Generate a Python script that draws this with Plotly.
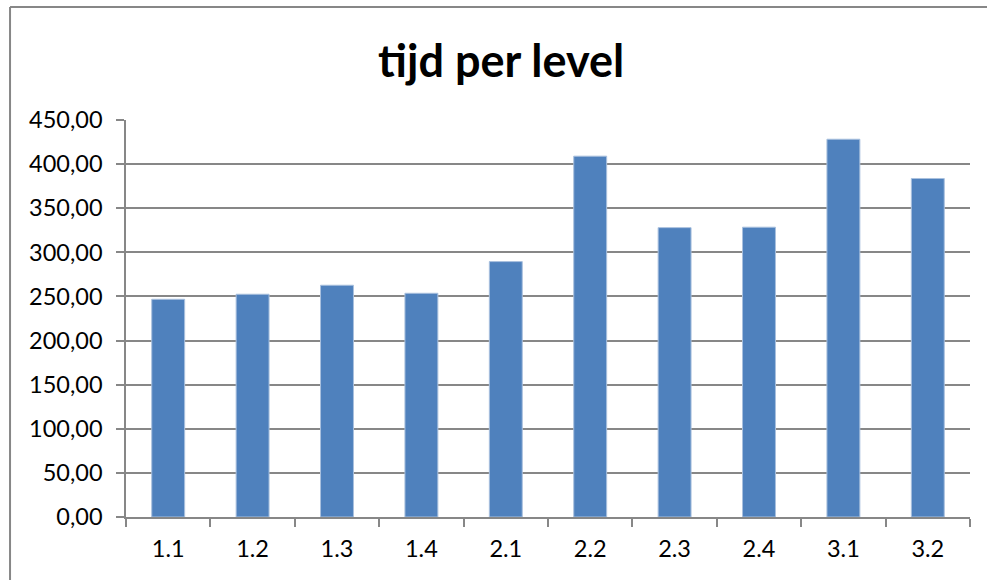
import plotly.graph_objects as go

# Average time per level
levels = ["1.1", "1.2", "1.3", "1.4", "2.1", "2.2", "2.3", "2.4", "3.1", "3.2"]
tijd = [246.8, 252.5, 262.7, 253.6, 289.5, 409.0, 328.0, 328.5, 428.2, 383.7]

y_ticks = [0, 50, 100, 150, 200, 250, 300, 350, 400, 450]
y_labels = [f"{v:.2f}".replace(".", ",") for v in y_ticks]

GRID = "#878787"
FONT = "Lato, 'Open Sans', sans-serif"

fig = go.Figure(
    go.Bar(
        x=levels,
        y=tijd,
        marker=dict(color="#4F81BD", line=dict(color="#A9C0DE", width=1)),
        hoverinfo="x+y",
    )
)

fig.update_layout(
    width=987,
    height=580,
    margin=dict(l=126, r=17, t=120, b=63),
    paper_bgcolor="white",
    plot_bgcolor="white",
    bargap=0.61,
    showlegend=False,
    font=dict(family=FONT, size=23.5, color="black"),
    title=dict(
        text="<b>tijd per level</b>",
        x=0.5077,
        xanchor="center",
        y=0.895,
        yanchor="middle",
        font=dict(family=FONT, size=45, color="black"),
    ),
    xaxis=dict(
        type="category",
        showline=True,
        linecolor=GRID,
        linewidth=1.5,
        ticks="outside",
        tickson="boundaries",
        ticklen=8,
        tickwidth=1.5,
        tickcolor=GRID,
        showgrid=False,
        ticklabelstandoff=10,
        tickfont=dict(size=23.5),
    ),
    yaxis=dict(
        range=[0, 450],
        tickvals=y_ticks,
        ticktext=y_labels,
        showline=True,
        linecolor=GRID,
        linewidth=1.5,
        ticks="outside",
        ticklen=8,
        tickwidth=1.5,
        tickcolor=GRID,
        showgrid=True,
        gridcolor=GRID,
        gridwidth=1.5,
        zeroline=False,
        ticklabelstandoff=9,
        tickfont=dict(size=23.5),
    ),
)

# Chart frame (left and top edges)
fig.add_shape(type="line", xref="paper", yref="paper",
              x0=-0.1374, x1=-0.1374, y0=1.2846, y1=-0.17,
              line=dict(color=GRID, width=2))
fig.add_shape(type="line", xref="paper", yref="paper",
              x0=-0.1374, x1=1.03, y0=1.2846, y1=1.2846,
              line=dict(color=GRID, width=2))

fig.write_html("out.html")
